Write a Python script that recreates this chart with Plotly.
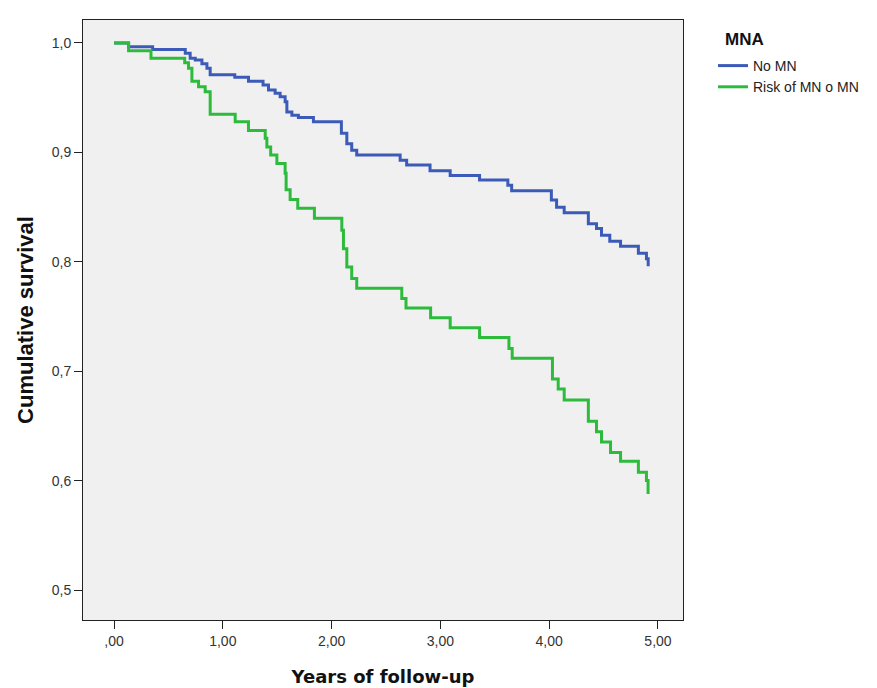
import plotly.graph_objects as go

# No MN (blue) step times and survival values
t_no = [0, 0.134, 0.355, 0.655, 0.70, 0.747, 0.808, 0.854, 0.884, 1.11, 1.236, 1.37, 1.42, 1.481,
        1.527, 1.573, 1.589, 1.635, 1.695, 1.833, 2.09, 2.14, 2.185, 2.231, 2.63, 2.69, 2.905,
        3.09, 3.36, 3.62, 3.655, 4.02, 4.068, 4.138, 4.36, 4.435, 4.481, 4.557, 4.656, 4.82,
        4.894, 4.91]
s_no = [1.0, 0.9966, 0.994, 0.9906, 0.986, 0.9845, 0.981, 0.977, 0.971, 0.9686, 0.965, 0.9616,
        0.957, 0.954, 0.951, 0.9463, 0.937, 0.934, 0.932, 0.928, 0.9175, 0.908, 0.902, 0.8976,
        0.893, 0.8885, 0.8833, 0.879, 0.8748, 0.870, 0.865, 0.8565, 0.850, 0.845, 0.835, 0.8306,
        0.8245, 0.819, 0.8144, 0.808, 0.803, 0.796]

# Risk of MN o MN (green)
t_risk = [0, 0.134, 0.34, 0.65, 0.685, 0.716, 0.777, 0.838, 0.884, 1.114, 1.236, 1.39, 1.405,
          1.44, 1.497, 1.573, 1.582, 1.619, 1.689, 1.842, 2.094, 2.109, 2.14, 2.185, 2.231,
          2.645, 2.684, 2.91, 3.09, 3.36, 3.63, 3.66, 4.03, 4.083, 4.138, 4.36, 4.435, 4.481,
          4.564, 4.656, 4.82, 4.894, 4.909]
s_risk = [1.0, 0.993, 0.986, 0.982, 0.977, 0.965, 0.960, 0.9555, 0.935, 0.928, 0.920, 0.913,
          0.905, 0.8976, 0.890, 0.881, 0.866, 0.857, 0.849, 0.840, 0.829, 0.812, 0.7955, 0.785,
          0.776, 0.7666, 0.758, 0.749, 0.740, 0.731, 0.721, 0.712, 0.693, 0.684, 0.674, 0.6545,
          0.645, 0.6356, 0.626, 0.618, 0.608, 0.6005, 0.588]

x_tickvals = [0, 1, 2, 3, 4, 5]
x_ticktext = [",00", "1,00", "2,00", "3,00", "4,00", "5,00"]
y_tickvals = [0.5, 0.6, 0.7, 0.8, 0.9, 1.0]
y_ticktext = ["0,5", "0,6", "0,7", "0,8", "0,9", "1,0"]

BLUE = "#3c5bb8"
GREEN = "#2dbb3c"

fig = go.Figure()
fig.add_trace(go.Scatter(x=t_no, y=s_no, mode="lines", line=dict(color=BLUE, width=3, shape="hv"),
                         name="No MN"))
fig.add_trace(go.Scatter(x=t_risk, y=s_risk, mode="lines", line=dict(color=GREEN, width=3, shape="hv"),
                         name="Risk of MN o MN"))

fig.add_annotation(text="<b>MNA</b>", xref="paper", yref="paper", x=1.067, y=0.968,
                   xanchor="left", yanchor="middle", showarrow=False,
                   font=dict(family="Liberation Sans, Arial, sans-serif", size=17, color="#111111"))

fig.update_layout(
    width=877, height=688,
    margin=dict(l=83, r=194, t=20, b=68),
    paper_bgcolor="white",
    plot_bgcolor="#f0f0f0",
    font=dict(family="Liberation Sans, Arial, sans-serif", size=14, color="#333333"),
    legend=dict(
        x=1.05, y=0.95, xanchor="left", yanchor="top",
        font=dict(size=14, color="#222222"),
        bgcolor="rgba(0,0,0,0)",
        tracegroupgap=0,
        itemwidth=30,
    ),
    xaxis=dict(
        range=[-0.285, 5.23],
        tickvals=x_tickvals, ticktext=x_ticktext,
        ticks="outside", ticklen=8, tickcolor="#222222", tickwidth=1,
        showgrid=False, zeroline=False, automargin=False,
        showline=True, linecolor="#222222", linewidth=1, mirror=True,
        title=dict(text="<b>Years of follow-up</b>",
                   font=dict(family="DejaVu Sans, sans-serif", size=18, color="#111111"),
                   standoff=22),
    ),
    yaxis=dict(
        range=[0.473, 1.021],
        tickvals=y_tickvals, ticktext=y_ticktext,
        ticks="outside", ticklen=8, tickcolor="#222222", tickwidth=1,
        showgrid=False, zeroline=False, automargin=False,
        showline=True, linecolor="#222222", linewidth=1, mirror=True,
        title=dict(text="<b>Cumulative survival</b>",
                   font=dict(family="Liberation Sans, Arial, sans-serif", size=22, color="#111111"),
                   standoff=12),
    ),
)

fig.write_html("out.html")
